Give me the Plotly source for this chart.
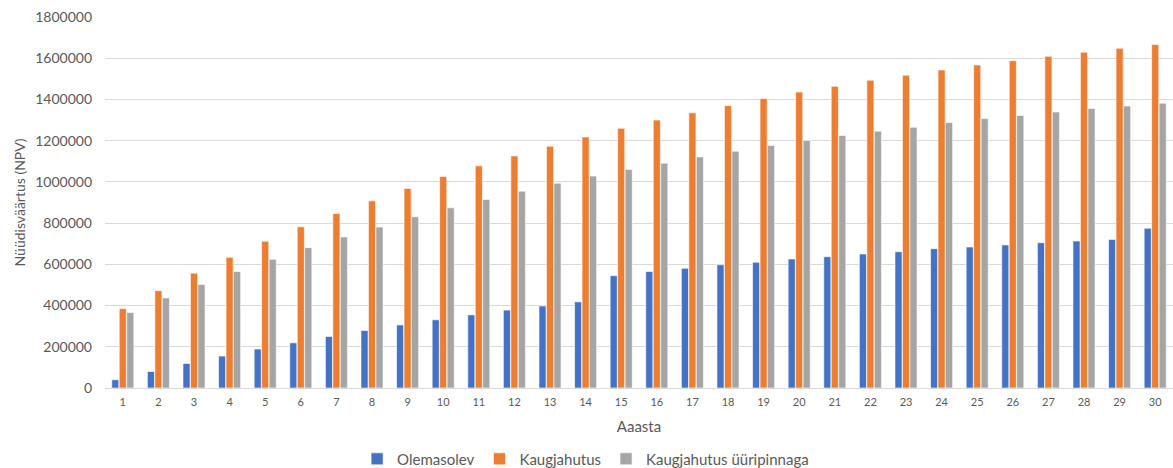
import plotly.graph_objects as go

years = [str(i) for i in range(1, 31)]

olemasolev = [40000, 80000, 119000, 155000, 189000, 219000, 250000, 279000, 306000, 331000,
              355000, 378000, 398000, 418000, 545000, 565000, 581000, 598000, 610000, 626000,
              637000, 650000, 661000, 676000, 684000, 694000, 705000, 713000, 721000, 775000]

kaugjahutus = [385000, 472000, 557000, 634000, 712000, 782000, 847000, 908000, 968000, 1026000,
               1078000, 1126000, 1173000, 1218000, 1260000, 1300000, 1335000, 1370000, 1404000, 1436000,
               1464000, 1493000, 1517000, 1543000, 1567000, 1588000, 1609000, 1629000, 1648000, 1666000]

kaugjahutus_yyr = [366000, 437000, 502000, 565000, 625000, 681000, 733000, 781000, 831000, 874000,
                   915000, 955000, 994000, 1028000, 1060000, 1091000, 1121000, 1149000, 1177000, 1201000,
                   1225000, 1246000, 1265000, 1288000, 1307000, 1322000, 1339000, 1356000, 1368000, 1382000]

series = [
    ("Olemasolev", olemasolev, "#4472C4"),
    ("Kaugjahutus", kaugjahutus, "#ED7D31"),
    ("Kaugjahutus üüripinnaga", kaugjahutus_yyr, "#A5A5A5"),
]

FONT = "Lato, 'Open Sans', sans-serif"
TEXT = "#595959"

fig = go.Figure()
for name, vals, color in series:
    fig.add_trace(go.Bar(
        x=years, y=vals, name=name,
        marker=dict(color=color, line=dict(color="white", width=0.6)),
    ))

fig.update_layout(
    width=1173, height=468,
    margin=dict(l=105, r=0, t=17, b=80),
    paper_bgcolor="white", plot_bgcolor="white",
    barmode="group", bargap=0.37, bargroupgap=0.05,
    font=dict(family=FONT, color=TEXT),
    showlegend=True,
    legend=dict(
        orientation="h", x=0.45, xanchor="center",
        yref="container", y=0.019, yanchor="middle",
        font=dict(size=15, color=TEXT), itemwidth=30, traceorder="normal",
        tracegroupgap=0,
    ),
    xaxis=dict(
        type="category", tickfont=dict(size=11, color=TEXT),
        showline=True, linecolor="#D9D9D9", linewidth=1,
        ticks="", showgrid=False, automargin=False, ticklabelstandoff=4,
        title=dict(text="Aaasta", font=dict(size=15, color=TEXT), standoff=14),
    ),
    yaxis=dict(
        range=[0, 1800000], dtick=200000, tickformat="d",
        tickfont=dict(size=14, color=TEXT),
        showgrid=True, gridcolor="#D9D9D9", gridwidth=1,
        zeroline=False, ticks="", ticklabelstandoff=12, automargin=False,
        title=dict(text="Nüüdisväärtus (NPV)", font=dict(size=14, color=TEXT), standoff=6),
    ),
)

fig.write_html("out.html")
